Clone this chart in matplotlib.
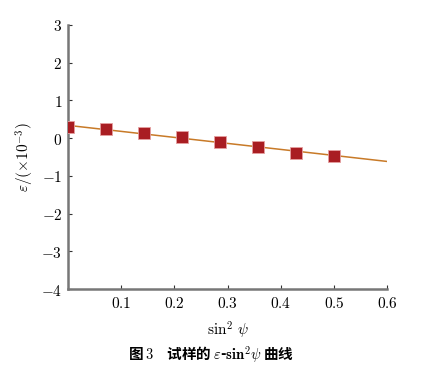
import numpy as np
import matplotlib.pyplot as plt

plt.rcParams['mathtext.fontset'] = 'cm'
plt.rcParams['font.family'] = ['Noto Sans CJK SC', 'DejaVu Sans']

# sin^2(psi) values and measured strain (x10^-3)
sin2psi = [0.0, 0.0714, 0.1429, 0.2143, 0.2857, 0.3571, 0.4286, 0.5]
strain = [0.30, 0.23, 0.13, 0.03, -0.09, -0.23, -0.38, -0.46]

xticks = [0.1, 0.2, 0.3, 0.4, 0.5, 0.6]
yticks = [-4, -3, -2, -1, 0, 1, 2, 3]

fig = plt.figure(figsize=(4.35, 3.73), dpi=100)
ax = fig.add_axes([0.156, 0.225, 0.734, 0.708])

# linear fit through the points
k, b = np.polyfit(sin2psi, strain, 1)
xf = np.array([0, 0.6])
ax.plot(xf, k * xf + b, color='#c87a28', lw=1.1, zorder=2)
ax.plot(sin2psi, strain, 's', ms=9, color='#a91d22', mec='#e5a0a0', mew=0.6, zorder=3)

ax.set_xlim(0, 0.6)
ax.set_ylim(-4, 3)
ax.set_xticks(xticks)
ax.set_yticks(yticks)
ax.set_xticklabels(['$%g$' % t for t in xticks], fontsize=11)
ax.set_yticklabels(['$%g$' % t for t in yticks], fontsize=11)
ax.tick_params(direction='in', length=3, width=0.8, color='#333333', pad=4)

for s in ['top', 'right']:
    ax.spines[s].set_visible(False)
for s in ['left', 'bottom']:
    ax.spines[s].set_color('#777777')
    ax.spines[s].set_linewidth(1.8)

ax.set_xlabel(r'$\mathrm{sin}^2\ \psi$', fontsize=11, labelpad=6)
ax.set_ylabel(r'$\varepsilon/(\times10^{-3})$', fontsize=11, labelpad=4)

fig.text(0.485, 0.05,
         '图 $\\mathbf{3}$    试样的 $\\varepsilon$-$\\mathbf{sin}^{\\mathbf{2}}\\psi$ 曲线',
         ha='center', va='center', fontsize=10.5, fontweight='bold')

fig.savefig('out.png', dpi=100)
